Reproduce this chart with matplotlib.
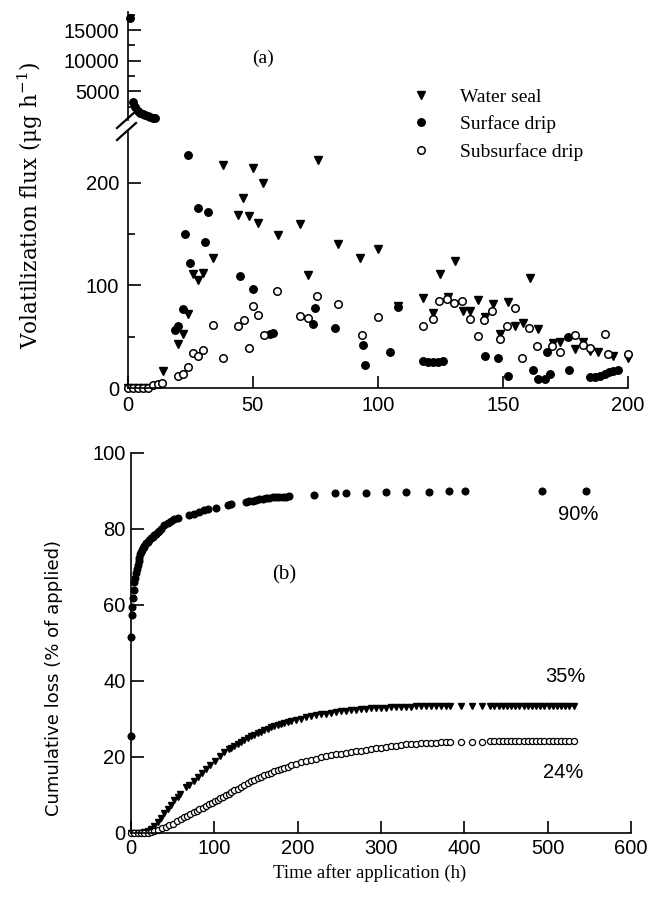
import matplotlib
matplotlib.use("Agg")
import matplotlib.pyplot as plt
from matplotlib.lines import Line2D

# ---- (a) volatilization flux (ug/h) ----
ws_t = [0, 2, 4, 6, 8, 14, 20, 22, 24, 26, 28, 30, 34, 38, 44, 46, 48.5, 50, 52, 54, 60,
        69, 72, 76, 84, 93, 100, 108, 118, 122, 125, 128, 131, 134, 137, 140, 143, 146,
        149, 152, 155, 158, 161, 164, 170, 173, 179, 182, 185, 188, 194, 200]
ws_v = [0, 0, 0, 0, 0, 17, 43, 53, 72, 111, 105, 112, 127, 218, 169, 185, 168, 215, 161, 200, 149,
        160, 110, 222, 140, 127, 136, 80, 88, 73, 111, 89, 124, 75, 75, 86, 69, 82,
        53, 84, 60, 63, 107, 58, 44, 45, 38, 45, 36, 35, 31, 29]

sd_t = [1, 2.2, 3, 4, 5, 6, 7, 8, 9, 10, 11,
        18.9, 20.3, 22, 23, 24, 25, 28, 31, 32, 45, 50, 57, 58, 74, 75, 83, 94, 95, 105, 108,
        118, 120, 122, 124, 126, 143, 148, 152, 162, 164, 167, 167.5, 169, 176, 176.5,
        185, 187, 189, 191, 192.5, 194, 196]
sd_v = [16900, 3250, 2500, 1700, 1500, 1300, 1150, 1000, 850, 700, 550,
        57, 60, 77, 150, 227, 122, 176, 142, 172, 109, 97, 53, 54, 62, 78, 59, 42, 22, 35, 79,
        26, 25, 25, 25, 26, 31, 29, 12, 18, 9, 9, 35, 14, 50, 18,
        11, 11, 12, 14, 16, 17, 18]

ss_t = [0, 2, 4, 6, 8, 10.3, 12, 13.6, 20.3, 22.3, 24.3, 26.3, 28.3, 30.3, 34, 38, 44, 46.3,
        48.6, 50, 52, 54.5, 59.6, 69, 72, 75.8, 84, 93.5, 100, 118, 122, 124.6, 127.8, 130.6,
        133.8, 137, 140, 142.6, 145.8, 149, 151.8, 154.8, 157.8, 160.6, 163.6, 169.8, 173,
        179, 182, 185, 191, 192, 200]
ss_v = [0, 0, 0, 0, 0, 3, 4, 5, 12, 14, 20, 34, 31, 37, 61, 29, 60, 66,
        39, 80, 71, 52, 95, 70, 68, 90, 82, 52, 69, 60, 67, 85, 87, 83,
        85, 67, 51, 66, 75, 48, 60, 78, 29, 59, 41, 41, 35,
        52, 42, 39, 53, 33, 33]

# ---- (b) cumulative loss (% of applied) ----
sdc_t = [0, 0.5, 1, 1.5, 2, 3, 4, 5, 6, 7, 8, 9, 10, 11, 12, 13, 14, 15, 16,
         18, 20, 22, 24, 26, 28, 30, 32, 34, 36, 40, 44, 48, 52, 56,
         70, 75, 82, 88, 92, 102, 116, 120,
         138, 142, 146, 150, 154, 158, 162, 166, 170, 174, 178, 182, 186, 190,
         220, 245, 258, 282, 306, 330, 357, 381, 401, 493, 546]
sdc_v = [25.5, 51.7, 57.4, 59.6, 61.8, 64, 66, 67, 68.5, 69.5, 70.5, 71.5, 72.5, 73.5, 74, 74.5, 75, 75.3, 75.6,
         76.2, 76.7, 77.2, 77.6, 78, 78.4, 78.8, 79.2, 79.6, 80, 81, 81.6, 82.1, 82.6, 83,
         83.6, 84, 84.6, 85, 85.3, 85.6, 86.4, 86.6,
         87.2, 87.4, 87.5, 87.7, 87.8, 88, 88.1, 88.2, 88.3, 88.3, 88.4, 88.5, 88.5, 88.6,
         89, 89.4, 89.5, 89.6, 89.7, 89.8, 89.8, 89.9, 89.9, 90, 90]

wsc_t = [0, 4, 8, 12, 16, 20, 24, 28, 32, 36, 40, 44, 48, 52, 56, 59, 66, 69, 75, 80, 85, 90,
         95, 101, 107, 112, 117, 120, 124, 128, 132, 136, 140, 144, 148, 152, 156, 160, 164,
         168, 172, 176, 180, 184, 188, 192, 198, 204, 210, 216, 222, 228, 234, 240, 246, 252,
         258, 264, 270, 276, 282, 288, 294, 300, 306, 312, 318, 324, 330, 336, 342, 348, 354,
         360, 366, 372, 378, 383, 396, 409, 421, 431, 436, 441, 446, 451, 456, 461, 466, 471,
         476, 481, 486, 491, 496, 501, 506, 511, 516, 521, 526, 531]
wsc_v = [0, 0, 0, 0, 0.2, 0.5, 1.0, 1.8, 2.8, 3.9, 5.2, 6.3, 7.5, 8.7, 9.6, 10.3, 12.0, 12.6, 13.8, 14.8, 15.8, 16.8,
         17.8, 19.0, 20.3, 21.2, 22.0, 22.4, 23.0, 23.5, 24.0, 24.5, 25.0, 25.5, 25.9, 26.3, 26.7, 27.1, 27.5,
         27.8, 28.1, 28.4, 28.7, 29.0, 29.2, 29.4, 29.8, 30.1, 30.4, 30.7, 31.0, 31.2, 31.4, 31.6, 31.8, 32.0,
         32.1, 32.3, 32.4, 32.6, 32.7, 32.8, 32.9, 33.0, 33.0, 33.1, 33.1, 33.2, 33.2, 33.2, 33.3, 33.3, 33.3,
         33.3, 33.4, 33.4, 33.4, 33.4, 33.4, 33.4, 33.4, 33.5, 33.5, 33.5, 33.5, 33.5, 33.5, 33.5, 33.5, 33.5,
         33.5, 33.5, 33.5, 33.5, 33.5, 33.5, 33.5, 33.5, 33.5, 33.5, 33.5, 33.5]

ssc_t = [0, 4, 8, 12, 16, 20, 24, 28, 32, 37, 42, 46, 50, 55, 60, 64, 67, 71, 75, 79, 82, 86, 90,
         94, 97, 101, 104, 107, 110, 114, 117, 120, 124, 128, 132, 136, 140, 144, 148, 152, 156,
         160, 164, 168, 172, 176, 180, 184, 188, 192, 198, 204, 210, 216, 222, 228, 234, 240,
         246, 252, 258, 264, 270, 276, 282, 288, 294, 300, 306, 312, 318, 324, 330, 336, 342,
         348, 354, 360, 366, 372, 378, 383, 396, 409, 421, 431, 436, 441, 446, 451, 456, 461,
         466, 471, 476, 481, 486, 491, 496, 501, 506, 511, 516, 521, 526, 531]
ssc_v = [0, 0, 0, 0, 0, 0.1, 0.2, 0.4, 0.8, 1.2, 1.7, 2.1, 2.5, 3.1, 3.7, 4.1, 4.5, 5.0, 5.5, 5.9, 6.3, 6.7, 7.2,
         7.6, 8.0, 8.4, 8.8, 9.1, 9.5, 9.9, 10.3, 10.7, 11.2, 11.7, 12.2, 12.7, 13.1, 13.6, 14.0, 14.4, 14.8,
         15.2, 15.6, 15.9, 16.3, 16.6, 16.9, 17.2, 17.5, 17.8, 18.2, 18.6, 19.0, 19.3, 19.6, 19.9, 20.2, 20.5,
         20.7, 20.9, 21.1, 21.3, 21.5, 21.7, 21.9, 22.1, 22.3, 22.5, 22.7, 22.9, 23.0, 23.2, 23.3, 23.4, 23.5,
         23.6, 23.7, 23.8, 23.8, 23.9, 23.9, 24.0, 24.0, 24.0, 24.0, 24.2, 24.2, 24.2, 24.2, 24.2, 24.2, 24.2,
         24.2, 24.2, 24.2, 24.2, 24.2, 24.2, 24.2, 24.2, 24.2, 24.2, 24.2, 24.2, 24.2, 24.2]

end_labels = ["90%", "35%", "24%"]

W, H = 650, 906


def fr(x, y):
    # pixel position -> figure fraction
    return x / W, 1 - y / H


plt.rcParams['mathtext.fontset'] = 'dejavuserif'
sans = 'Liberation Sans'
serif = 'Liberation Serif'

fig = plt.figure(figsize=(6.5, 9.06), dpi=100)
ax_hi = fig.add_axes([127.7 / W, 1 - 120 / H, 500.3 / W, 108.3 / H])
ax_lo = fig.add_axes([127.7 / W, 1 - 388 / H, 500.3 / W, (388 - 131.7) / H])
ax_b = fig.add_axes([131 / W, 1 - 833 / H, 500 / W, 380 / H])

for ax in (ax_hi, ax_lo, ax_b):
    ax.spines['top'].set_visible(False)
    ax.spines['right'].set_visible(False)
    for s in ax.spines.values():
        s.set_linewidth(1.2)
    ax.tick_params(direction='in', length=9, width=1.2, labelsize=14.5, pad=6)
    ax.tick_params(which='minor', direction='in', length=5, width=1.2)

ms = 5.4
# upper broken part
hi = [(t, v) for t, v in zip(sd_t, sd_v) if v > 300]
lo = [(t, v) for t, v in zip(sd_t, sd_v) if v <= 300]
ax_hi.plot([p[0] for p in hi], [p[1] for p in hi], 'o', color='black', ms=ms, clip_on=False)
ax_hi.set_xlim(0, 200)
ax_hi.set_ylim(300, 18000)
ax_hi.spines['bottom'].set_visible(False)
ax_hi.set_xticks([])
ax_hi.set_yticks([5000, 10000, 15000])
ax_hi.set_yticks([2500, 7500, 12500, 17500], minor=True)
ax_hi.patch.set_visible(False)

ax_lo.plot(ws_t, ws_v, 'v', color='black', ms=ms, label='Water seal', clip_on=False)
ax_lo.plot([p[0] for p in lo], [p[1] for p in lo], 'o', color='black', ms=ms,
           label='Surface drip', clip_on=False)
ax_lo.plot(ss_t, ss_v, 'o', mfc='white', mec='black', mew=1.1, ms=ms,
           label='Subsurface drip', clip_on=False)
ax_lo.set_xlim(0, 200)
ax_lo.set_ylim(0, 250)
ax_lo.set_xticks([0, 50, 100, 150, 200])
ax_lo.set_yticks([0, 100, 200])
ax_lo.set_yticks([50, 150], minor=True)
ax_lo.patch.set_visible(False)

# axis break marks
for y0 in (128, 140):
    x1, y1 = fr(117, y0)
    x2, y2 = fr(136, y0 - 17)
    fig.add_artist(Line2D([x1, x2], [y1, y2], color='black', lw=1.6))

leg = ax_lo.legend(loc='upper left', bbox_to_anchor=fr(411, 88), bbox_transform=fig.transFigure,
                   frameon=False, handlelength=1.0, handletextpad=1.5, labelspacing=0.5,
                   borderpad=0, borderaxespad=0, prop={'family': serif, 'size': 14})

fig.text(*fr(263, 58), '(a)', family=serif, fontsize=14, ha='center', va='center')
fig.text(*fr(30, 205), 'Volatilization flux (μg h$^{-1}$)', family='DejaVu Serif', fontsize=15.5,
         rotation=90, ha='center', va='center')

# ---- panel b ----
ax_b.plot(sdc_t, sdc_v, 'o', color='black', ms=4.8, clip_on=False)
ax_b.plot(wsc_t, wsc_v, 'v', color='black', ms=4.6, clip_on=False)
ax_b.plot(ssc_t, ssc_v, 'o', mfc='white', mec='black', mew=0.9, ms=4.4, clip_on=False)
ax_b.set_xlim(0, 600)
ax_b.set_ylim(0, 100)
ax_b.set_xticks(range(0, 601, 100))
ax_b.set_yticks(range(0, 101, 20))
ax_b.tick_params(pad=4)

for ax in (ax_hi, ax_lo, ax_b):
    for lab in ax.get_xticklabels() + ax.get_yticklabels():
        lab.set_family(sans)

for (x, y), s in zip([(578, 515), (565, 677), (563, 773)], end_labels):
    fig.text(*fr(x, y), s, family=sans, fontsize=14.5, ha='center', va='center')

fig.text(*fr(284, 575), '(b)', family=serif, fontsize=15, ha='center', va='center')
fig.text(*fr(54, 678), 'Cumulative loss (% of applied)', family='DejaVu Sans', fontsize=13,
         rotation=90, ha='center', va='center')
fig.text(*fr(370, 873), 'Time after application (h)', family=serif, fontsize=13.5,
         ha='center', va='center')

fig.savefig('out.png', dpi=100)
